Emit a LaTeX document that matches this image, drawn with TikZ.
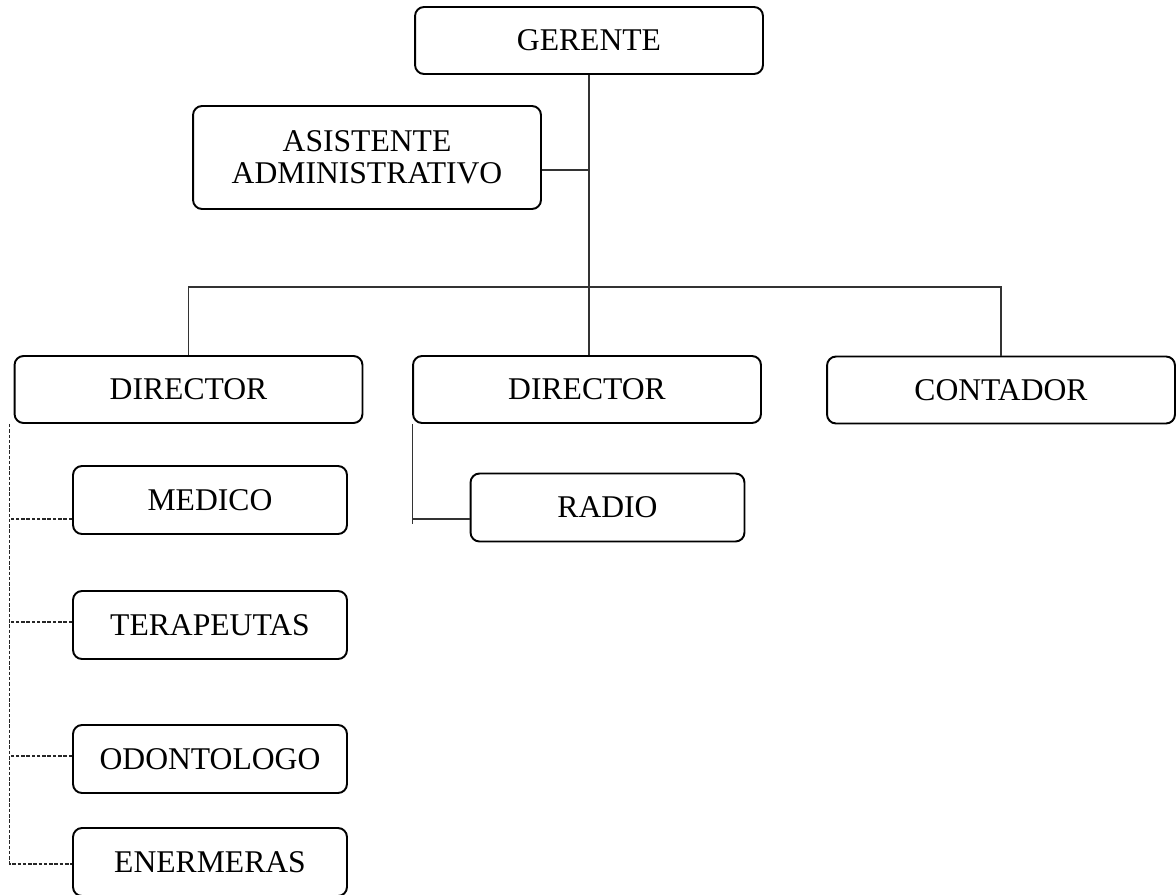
\documentclass[tikz,border=0pt]{standalone}
\usepackage{fontspec}
\setmainfont{Liberation Serif}
\usetikzlibrary{positioning}
\tikzset{
  cargo/.style={draw, line width=1.1pt, rounded corners=0.18cm, align=center,
    minimum width=6.96cm, minimum height=1.34cm, inner sep=0pt,
    font=\fontsize{18}{18.5}\selectfont},
  subcargo/.style={cargo, minimum width=5.48cm, minimum height=1.36cm},
  link/.style={draw=black!80, line width=0.6pt},
  dotlink/.style={draw=black!85, line width=0.7pt, dash pattern=on 2pt off 1pt}
}
\begin{document}
\begin{tikzpicture}[x=0.02cm, y=-0.02cm]
                \useasboundingbox (0,0) rectangle (1176,895);
                \node[cargo] (gerente) at (589,40.5) {GERENTE};
                \node[cargo, minimum height=2.06cm] (asistente) at (367,157.5) {ASISTENTE\\ADMINISTRATIVO};
                \node[cargo] (dir1) at (188.5,389.5) {DIRECTOR};
                \node[cargo] (dir2) at (587,389.5) {DIRECTOR};
                \node[cargo] (contador) at (1001,390) {CONTADOR};
                \node[subcargo] (radio) at (607.5,507.5) {RADIO};
                \node[subcargo] (medico) at (210,500) {MEDICO};
                \node[subcargo] (terapeutas) at (210,625) {TERAPEUTAS};
                \node[subcargo] (odontologo) at (210,759) {ODONTOLOGO};
                \node[subcargo] (enermeras) at (210,862) {ENERMERAS};
                \coordinate (bus) at (589,287);
                \coordinate (spine) at ([xshift=-0.08cm]dir1.south west);
                \draw[link] (gerente.south) -- (589,297);
                \draw[link] ([yshift=-0.25cm]asistente.east) -- ([yshift=-0.25cm]asistente.east -| gerente.south);
                \draw[link] (dir1.north) |- (bus) -| (contador.north);
                \draw[link] (bus) -- (bus |- dir2.north);
                \draw[link] (dir2.south west) -- ([yshift=-0.32cm]radio.west -| dir2.south west);
                \draw[link] ([yshift=-0.23cm]radio.west) -- ([yshift=-0.23cm]radio.west -| dir2.south west);
                \draw[dotlink] (spine) |- ([yshift=-0.04cm]enermeras.west);
                \foreach \n/\s in {medico/-0.38, terapeutas/0.06, odontologo/0.06}{
                    \draw[dotlink] ([yshift=\s cm]\n.west) -- ([yshift=\s cm]\n.west -| spine);
                }
            \end{tikzpicture}
\end{document}
